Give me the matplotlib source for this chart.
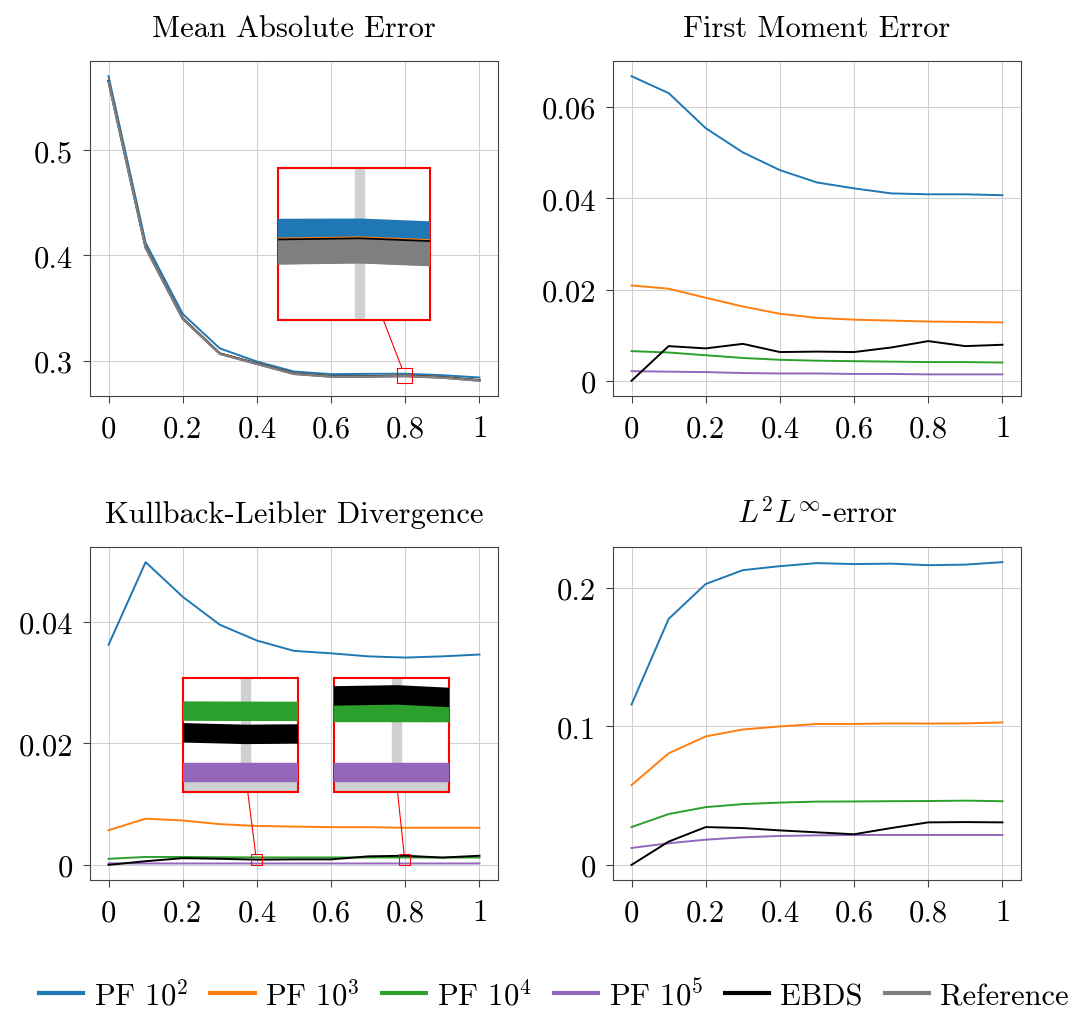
import matplotlib
matplotlib.use("Agg")
import matplotlib.pyplot as plt
from matplotlib.lines import Line2D
from matplotlib.patches import Rectangle
from matplotlib.ticker import FuncFormatter, MultipleLocator, FixedLocator

plt.rcParams['font.family'] = ['cmr10', 'DejaVu Serif']
plt.rcParams['mathtext.fontset'] = 'cm'
plt.rcParams['axes.unicode_minus'] = False
plt.rcParams['axes.formatter.use_mathtext'] = True

# ---------------- data ----------------
x = [0.0, 0.1, 0.2, 0.3, 0.4, 0.5, 0.6, 0.7, 0.8, 0.9, 1.0]
xticks = [0.0, 0.2, 0.4, 0.6, 0.8, 1.0]
labels = ["PF $10^2$", "PF $10^3$", "PF $10^4$", "PF $10^5$", "EBDS", "Reference"]
colors = ["#1f77b4", "#ff7f0e", "#2ca02c", "#9467bd", "#000000", "#7f7f7f"]

mae_pf2 = [0.5707, 0.4121, 0.3443, 0.3115, 0.2990, 0.2895, 0.2870, 0.2873, 0.2874, 0.2860, 0.2838]
mae_pf3 = [0.5668, 0.4080, 0.3403, 0.3069, 0.2973, 0.2878, 0.2852, 0.2852, 0.2857, 0.2843, 0.2814]
mae_pf4 = [0.5658, 0.4076, 0.3399, 0.3065, 0.2969, 0.2874, 0.2848, 0.2848, 0.2853, 0.2839, 0.2810]
mae_pf5 = [0.5654, 0.4072, 0.3396, 0.3062, 0.2966, 0.2871, 0.2845, 0.2845, 0.2850, 0.2836, 0.2807]
mae_ebds = [0.5662, 0.4079, 0.3402, 0.3068, 0.2972, 0.2877, 0.2851, 0.2851, 0.2856, 0.2842, 0.2813]
mae_ref = [0.5655, 0.4074, 0.3398, 0.3064, 0.2968, 0.2873, 0.2847, 0.2847, 0.2852, 0.2838, 0.2809]

fme_pf2 = [0.0668, 0.0631, 0.0554, 0.0501, 0.0462, 0.0435, 0.0422, 0.0411, 0.0409, 0.0409, 0.0407]
fme_pf3 = [0.0209, 0.0202, 0.0182, 0.0163, 0.0147, 0.0138, 0.0134, 0.0132, 0.0130, 0.0129, 0.0128]
fme_pf4 = [0.0065, 0.0062, 0.0056, 0.0050, 0.0046, 0.0044, 0.0043, 0.0042, 0.0041, 0.0041, 0.0040]
fme_pf5 = [0.0021, 0.0020, 0.0019, 0.0017, 0.0016, 0.0016, 0.0015, 0.0015, 0.0014, 0.0014, 0.0014]
fme_ebds = [0.0, 0.0076, 0.0071, 0.0081, 0.0063, 0.0064, 0.0063, 0.0073, 0.0087, 0.0076, 0.0079]

kl_pf2 = [0.0362, 0.0498, 0.0441, 0.0395, 0.0369, 0.0352, 0.0348, 0.0343, 0.0341, 0.0343, 0.0346]
kl_pf3 = [0.0057, 0.0076, 0.0073, 0.0067, 0.0064, 0.0063, 0.0062, 0.0062, 0.0061, 0.0061, 0.0061]
kl_pf4 = [0.0010, 0.0013, 0.0013, 0.00125, 0.00123, 0.00122, 0.00122, 0.00121, 0.00121, 0.00120, 0.00120]
kl_pf5 = [0.00025, 0.00023, 0.00023, 0.00023, 0.00023, 0.00023, 0.00023, 0.00023, 0.00023, 0.00023, 0.00023]
kl_ebds = [0.0, 0.0006, 0.0011, 0.0010, 0.00085, 0.0009, 0.0009, 0.0014, 0.0015, 0.0012, 0.0015]

l2_pf2 = [0.1158, 0.1777, 0.2029, 0.2129, 0.2158, 0.2180, 0.2173, 0.2176, 0.2165, 0.2169, 0.2187]
l2_pf3 = [0.0576, 0.0806, 0.0928, 0.0978, 0.1000, 0.1018, 0.1018, 0.1022, 0.1021, 0.1022, 0.1029]
l2_pf4 = [0.0273, 0.0367, 0.0417, 0.0439, 0.0450, 0.0457, 0.0458, 0.0460, 0.0461, 0.0464, 0.0460]
l2_pf5 = [0.0122, 0.0156, 0.0182, 0.0199, 0.0209, 0.0213, 0.0216, 0.0216, 0.0216, 0.0216, 0.0216]
l2_ebds = [0.0, 0.0168, 0.0273, 0.0266, 0.0249, 0.0235, 0.0221, 0.0266, 0.0307, 0.0309, 0.0307]

titles = ["Mean Absolute Error", "First Moment Error",
          "Kullback-Leibler Divergence", r"$L^2L^{\infty}$-error"]
ystep = [0.1, 0.02, 0.02, 0.1]

# spy (zoom) definitions: panel, center (data), inset rect in px from top-left
spies = [
    (0, (0.7984, 0.2859), (278, 169, 152, 152)),
    (2, (0.3985, 0.00084), (183, 679, 115, 114)),
    (2, (0.7985, 0.00084), (334, 679, 115, 114)),
]
MAG = 10.0

# ---------------- figure ----------------
W, H = 1077, 1012
DPI = 100
fig = plt.figure(figsize=(W / DPI, H / DPI), dpi=DPI)

rects_px = [(90, 62, 408, 335), (613, 62, 408, 335),
            (90, 548, 408, 333), (613, 548, 408, 333)]

def px_rect(r):
    l, t, w, h = r
    return [l / W, 1 - (t + h) / H, w / W, h / H]

series = [
    [mae_pf2, mae_pf3, mae_pf4, mae_pf5, mae_ebds, mae_ref],
    [fme_pf2, fme_pf3, fme_pf4, fme_pf5, fme_ebds, None],
    [kl_pf2, kl_pf3, kl_pf4, kl_pf5, kl_ebds, None],
    [l2_pf2, l2_pf3, l2_pf4, l2_pf5, l2_ebds, None],
]
LW = 1.4
LWS = [LW, LW, LW, LW, LW, 1.75]
GRID_C = "#d0d0d0"
GRID_LW = 0.75
SPINE_C = "#444444"
FS = 22

fmt = FuncFormatter(lambda v, p: "%g" % round(v, 6))

axes = []
for i in range(4):
    ax = fig.add_axes(px_rect(rects_px[i]))
    for j, s in enumerate(series[i]):
        if s is None:
            continue
        ax.plot(x, s, color=colors[j], lw=LWS[j], zorder=3 + j * 0.1)
    ax.xaxis.set_major_locator(FixedLocator(xticks))
    ax.yaxis.set_major_locator(MultipleLocator(ystep[i]))
    ax.xaxis.set_major_formatter(fmt)
    ax.yaxis.set_major_formatter(fmt)
    ax.grid(True, color=GRID_C, lw=GRID_LW, zorder=0)
    ax.set_axisbelow(True)
    for sp in ax.spines.values():
        sp.set_color(SPINE_C)
        sp.set_linewidth(0.8)
    ax.tick_params(direction="out", length=5, width=0.8, color=SPINE_C,
                   labelsize=FS, pad=7)
    ax.tick_params(axis="x", pad=8.5)
    ax.set_title(titles[i], fontsize=FS, pad=18)
    ax.set_xlim(ax.get_xlim())
    ax.set_ylim(ax.get_ylim())
    axes.append(ax)

# ---------------- spy insets ----------------
for (pi, (cx, cy), r) in spies:
    ax = axes[pi]
    l, t, w, h = r
    ins = fig.add_axes(px_rect(r), zorder=10)
    cpx = ax.transData.transform((cx, cy))
    bw, bh = w / MAG, h / MAG
    inv = ax.transData.inverted()
    x0, y0 = inv.transform((cpx[0] - bw / 2, cpx[1] - bh / 2))
    x1, y1 = inv.transform((cpx[0] + bw / 2, cpx[1] + bh / 2))
    for j, s in enumerate(series[pi]):
        if s is None:
            continue
        ins.plot(x, s, color=colors[j], lw=LWS[j] * MAG, zorder=3 + j * 0.1)
    ins.xaxis.set_major_locator(FixedLocator(xticks))
    ins.yaxis.set_major_locator(MultipleLocator(ystep[pi]))
    ins.grid(True, color=GRID_C, lw=GRID_LW * MAG, zorder=0)
    ins.set_axisbelow(True)
    ins.tick_params(length=0, labelbottom=False, labelleft=False)
    ins.set_xlim(x0, x1)
    ins.set_ylim(y0, y1)
    for sp in ins.spines.values():
        sp.set_color("red")
        sp.set_linewidth(1.5)
    rect = Rectangle((x0, y0), x1 - x0, y1 - y0, fill=False, ec="red",
                     lw=0.8, zorder=8, clip_on=False)
    ax.add_patch(rect)
    # connector between centers, clipped by both boxes
    ci = (l + w / 2, H - (t + h / 2))
    cb = (cpx[0], cpx[1])
    dx, dy = cb[0] - ci[0], cb[1] - ci[1]
    t1 = min((w / 2) / abs(dx) if dx else 1e9, (h / 2) / abs(dy) if dy else 1e9)
    t2 = 1 - min((bw / 2) / abs(dx) if dx else 1e9, (bh / 2) / abs(dy) if dy else 1e9)
    p1 = (ci[0] + t1 * dx, ci[1] + t1 * dy)
    p2 = (ci[0] + t2 * dx, ci[1] + t2 * dy)
    fig.add_artist(Line2D([p1[0] / W, p2[0] / W], [p1[1] / H, p2[1] / H],
                          transform=fig.transFigure, color="red", lw=0.8,
                          zorder=9))

# ---------------- legend ----------------
handles = [Line2D([], [], color=c, lw=3) for c in colors]
fig.legend(handles, labels, loc="center",
           bbox_to_anchor=(553.5 / W, 1 - 995 / H),
           ncol=6, frameon=False, fontsize=FS, handlelength=1.45,
           handletextpad=0.35, columnspacing=0.72, borderaxespad=0)

fig.savefig("out.png", dpi=DPI)
